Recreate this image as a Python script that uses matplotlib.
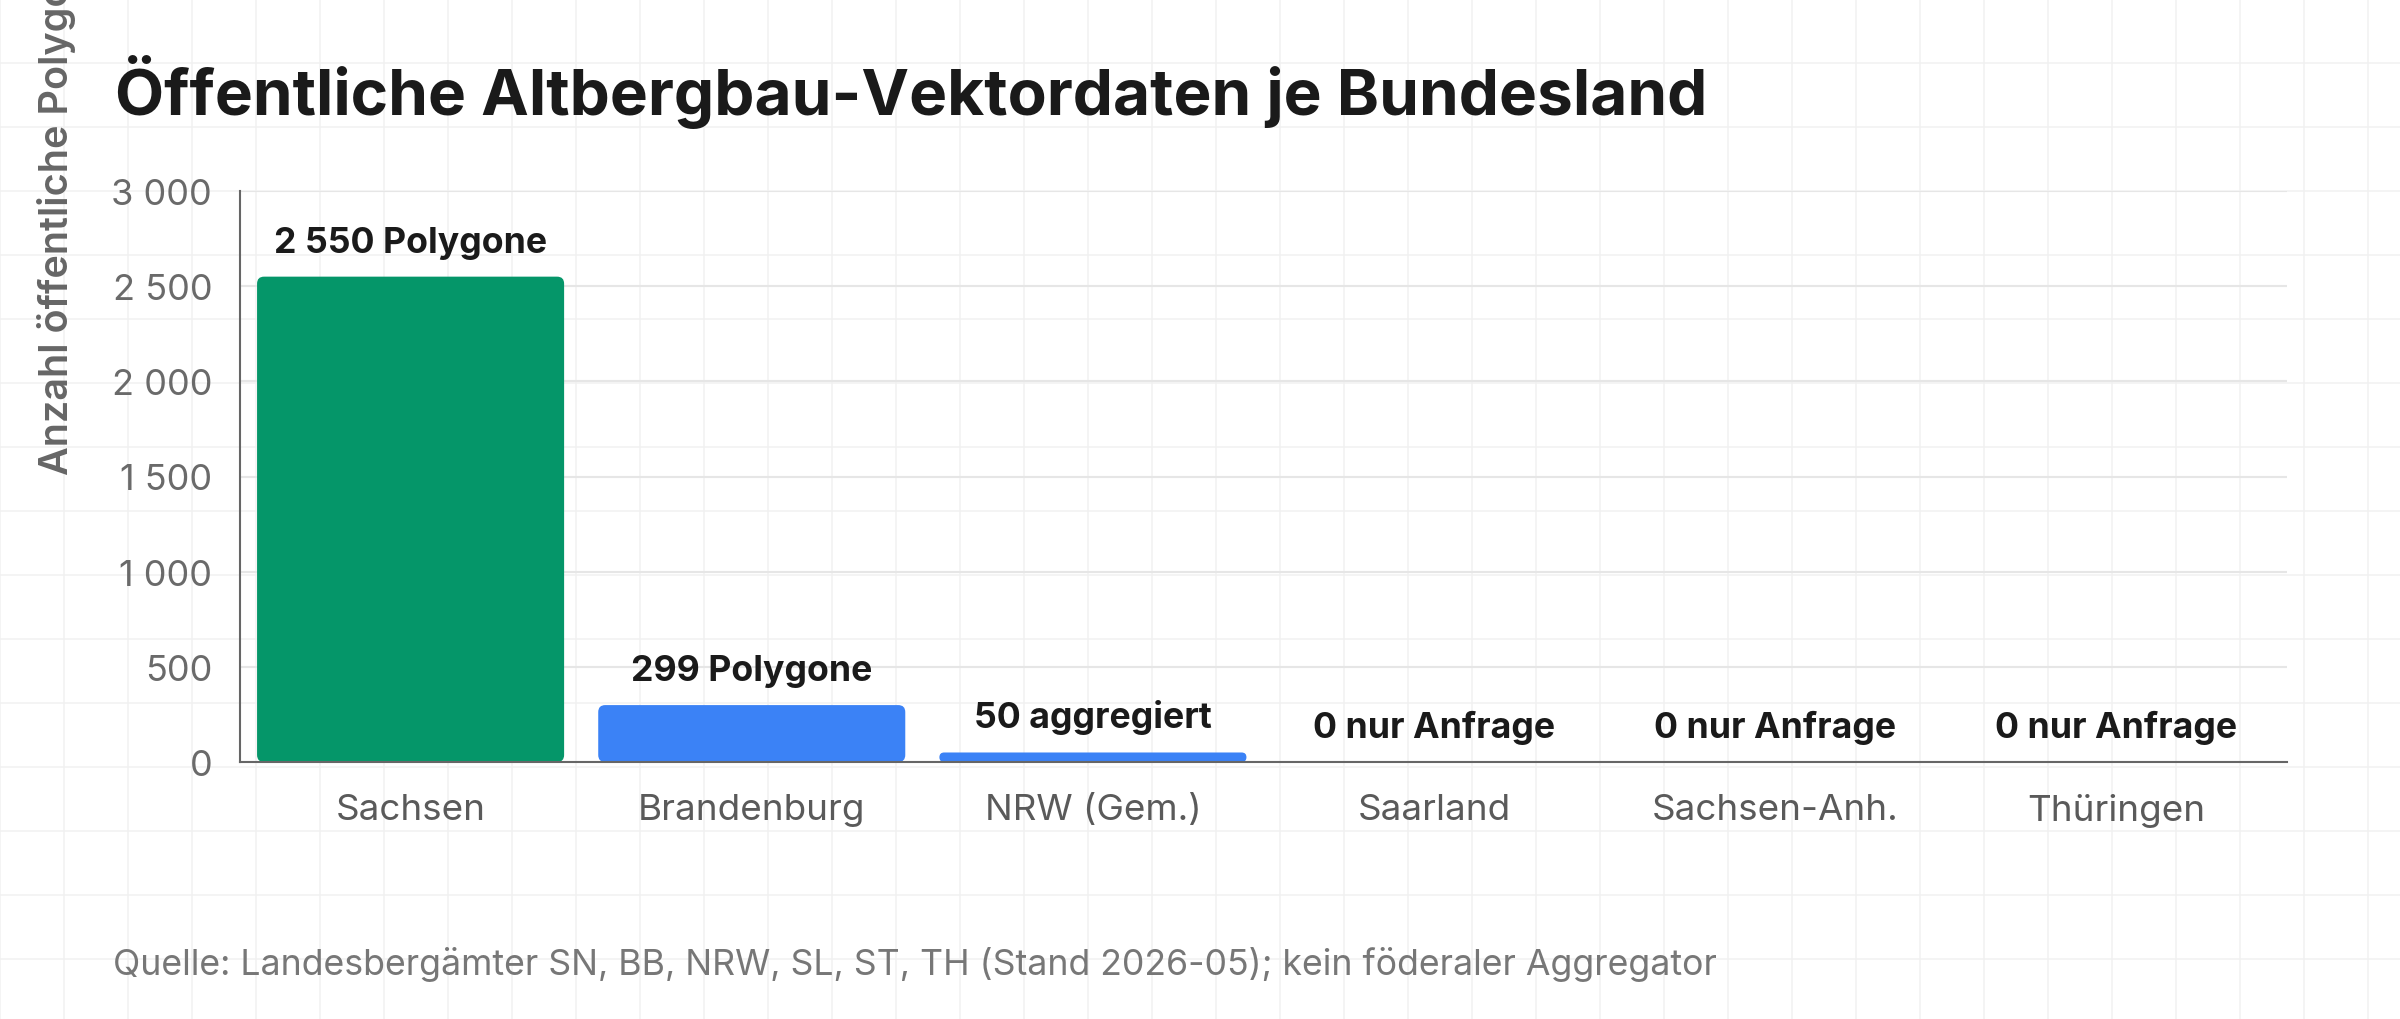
import matplotlib
matplotlib.use('Agg')
import matplotlib.pyplot as plt
from matplotlib.patches import FancyBboxPatch

plt.rcParams['font.family'] = ['Inter', 'DejaVu Sans']

# data
laender = ['Sachsen', 'Brandenburg', 'NRW (Gem.)', 'Saarland', 'Sachsen-Anh.', 'Thüringen']
polygone = [2550, 299, 50, 0, 0, 0]
beschriftung = ['2 550 Polygone', '299 Polygone', '50 aggregiert',
                '0 nur Anfrage', '0 nur Anfrage', '0 nur Anfrage']
farben = ['#059669', '#3b82f6', '#3b82f6', '#3b82f6', '#3b82f6', '#3b82f6']
y_ticks = [0, 500, 1000, 1500, 2000, 2500, 3000]
y_ticklabels = ['0', '500', '1 000', '1 500', '2 000', '2 500', '3 000']

title = 'Öffentliche Altbergbau-Vektordaten je Bundesland'
ylabel = 'Anzahl öffentliche Polygone'
quelle = 'Quelle: Landesbergämter SN, BB, NRW, SL, ST, TH (Stand 2026-05); kein föderaler Aggregator'

W, H = 2400, 1020
fig = plt.figure(figsize=(W / 100, H / 100), dpi=100)
fig.patch.set_facecolor('white')

# faint paper grid in the background, 64 px cells
bg = fig.add_axes([0, 0, 1, 1], zorder=-1)
bg.set_xlim(0, W)
bg.set_ylim(H, 0)
bg.axis('off')
for gx in range(0, W + 1, 64):
    bg.axvline(gx, color='#f1f1f1', lw=1.1)
for gy in range(0, H + 1, 64):
    bg.axhline(gy, color='#f1f1f1', lw=1.1)

# main axes
left, right, top, bottom = 240, 2287, 192, 763
ax = fig.add_axes([left / W, (H - bottom) / H, (right - left) / W, (bottom - top) / H])
ax.set_facecolor('none')

x = list(range(len(laender)))
bars = ax.bar(x, polygone, width=0.9, color=farben)
ax.set_xlim(-0.5, len(laender) - 0.5)
ax.set_ylim(0, 3000)

# rounded bar corners (radius ~7 px)
ux = (len(laender)) / (right - left)
uy = 3000 / (bottom - top)
for b in list(bars):
    h = b.get_height()
    if h > 0:
        r = min(7, h / uy / 2) * ux
        p = FancyBboxPatch((b.get_x(), 0), b.get_width(), h,
                           boxstyle=f'round,pad=0,rounding_size={r}',
                           mutation_aspect=uy / ux,
                           fc=b.get_facecolor(), ec='none', zorder=2)
        ax.add_patch(p)
    b.remove()

for i, (v, t) in enumerate(zip(polygone, beschriftung)):
    ax.annotate(t, (i, v), xytext=(0, 18), textcoords='offset points',
                ha='center', va='baseline', fontsize=25.7, fontweight='bold',
                color='#1a1a1a', annotation_clip=False)

ax.set_yticks(y_ticks)
ax.set_yticklabels(y_ticklabels)
ax.set_xticks(x)
ax.set_xticklabels(laender)
ax.yaxis.grid(True, color='#e6e6e6', lw=1.5)
ax.set_axisbelow(True)
ax.tick_params(axis='y', length=0, pad=20, labelsize=26, labelcolor='#6a6a6a')
ax.tick_params(axis='x', length=0, pad=22, labelsize=26.5, labelcolor='#5a5a5a')
for s in ['top', 'right']:
    ax.spines[s].set_visible(False)
for s in ['left', 'bottom']:
    ax.spines[s].set_color('#666666')
    ax.spines[s].set_linewidth(1.5)
    ax.spines[s].set_zorder(3)

# texts
fig.text(115 / W, 1 - 115 / H, title, fontsize=46, fontweight='bold',
         va='baseline', ha='left', color='#1a1a1a')
fig.text(68 / W, 1 - 475 / H, ylabel, rotation=90, rotation_mode='anchor',
         ha='left', va='baseline', fontsize=28.5, fontweight='semibold', color='#666666')
fig.text(113 / W, 1 - 975 / H, quelle, fontsize=25.7, va='baseline', ha='left',
         color='#777777')

fig.savefig('out.png', dpi=100)
